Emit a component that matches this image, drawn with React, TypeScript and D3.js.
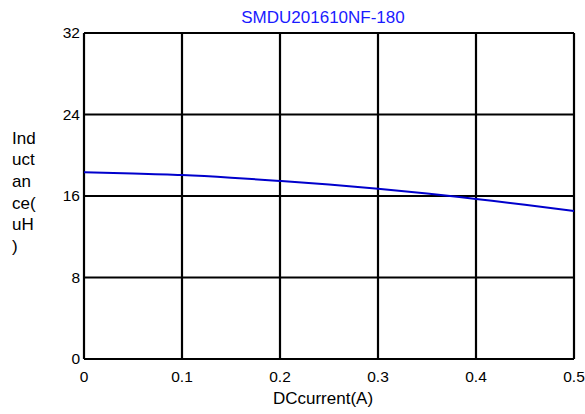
import React from "react";
import * as d3 from "d3";

const title = "SMDU201610NF-180";
const xLabel = "DCcurrent(A)";
const yLabelLines = ["Ind", "uct", "an", "ce(", "uH", ")"];
const xTicks = [0, 0.1, 0.2, 0.3, 0.4, 0.5];
const yTicks = [0, 8, 16, 24, 32];
const currentA = [0, 0.05, 0.1, 0.15, 0.2, 0.25, 0.3, 0.35, 0.4, 0.45, 0.5];
const inductanceUH = [18.33, 18.22, 18.06, 17.8, 17.47, 17.12, 16.72, 16.25, 15.7, 15.15, 14.53];

export default function App() {
  const W = 585, H = 414;
  const left = 84, right = 574, top = 33, bottom = 359;
  const x = d3.scaleLinear().domain([0, 0.5]).range([left, right]);
  const y = d3.scaleLinear().domain([0, 32]).range([bottom, top]);
  const line = d3
    .line<number>()
    .x((_, i) => x(currentA[i]))
    .y((d) => y(d))
    .curve(d3.curveMonotoneX);
  const font = "Liberation Sans, Arial, sans-serif";
  return (
    <svg width={W} height={H} style={{ position: "absolute", left: 0, top: 0, background: "#fff" }} fontFamily={font}>
      <rect x={0} y={0} width={W} height={H} fill="#fff" />
      {xTicks.map((t) => (
        <line key={"gx" + t} x1={x(t)} x2={x(t)} y1={top} y2={bottom} stroke="#000" strokeWidth={2.2} />
      ))}
      {yTicks.map((t) => (
        <line key={"gy" + t} x1={left} x2={right} y1={y(t)} y2={y(t)} stroke="#000" strokeWidth={2.2} />
      ))}
      <path d={line(inductanceUH) || ""} fill="none" stroke="#0000cc" strokeWidth={2} />
      {yTicks.map((t) => (
        <text key={"ty" + t} x={left - 4} y={y(t)} dy="0.35em" textAnchor="end" fontSize={15.5} fill="#000">
          {t}
        </text>
      ))}
      {xTicks.map((t) => (
        <text key={"tx" + t} x={x(t)} y={381.5} textAnchor="middle" fontSize={15.5} fill="#000">
          {t}
        </text>
      ))}
      <text x={323} y={404} textAnchor="middle" fontSize={17} fill="#000">
        {xLabel}
      </text>
      <text x={323} y={23} textAnchor="middle" fontSize={17} fill="#1a1aff">
        {title}
      </text>
      {yLabelLines.map((s, i) => (
        <text key={"yl" + i} x={12} y={143.5 + i * 21.7} fontSize={17} fill="#000">
          {s}
        </text>
      ))}
    </svg>
  );
}
